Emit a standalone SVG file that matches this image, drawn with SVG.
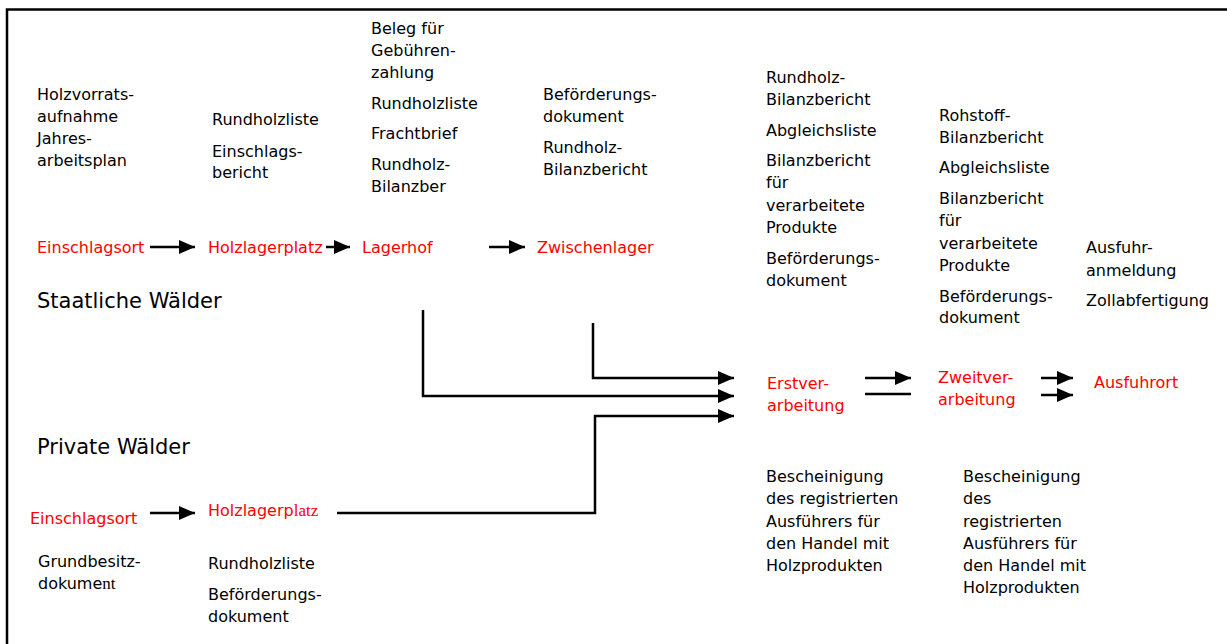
<svg xmlns="http://www.w3.org/2000/svg" width="1227" height="644" viewBox="0 0 1227 644">
<style>
text{font-family:"DejaVu Sans","Verdana",sans-serif;font-size:16px;fill:#000}
.r{fill:#ff0000}
.h{font-size:21px}
.s{font-family:"Liberation Serif","Times New Roman",serif}
.ln{stroke:#000;stroke-width:2.5;fill:none}
</style>
<defs>
<marker id="ah" markerUnits="userSpaceOnUse" markerWidth="17" markerHeight="14" refX="16" refY="7" orient="auto">
<path d="M0,0 L16,7 L0,14 Z" fill="#000"/>
</marker>
</defs>
<rect width="1227" height="644" fill="#fff"/>
<g id="frame">
<path d="M7,644 V9.5 H1227" stroke="#000" stroke-width="2.5" fill="none"/>
</g>
<g id="heading-staat"><text class="h" x="37" y="308">Staatliche Wälder</text></g>
<g id="heading-privat"><text class="h" x="37" y="454">Private Wälder</text></g>

<g id="n-einschlagsort1"><text class="r" x="37" y="253">Einschlagsort</text>
<text x="37" y="100">Holzvorrats-</text><text x="37" y="122">aufnahme</text><text x="37" y="144">Jahres-</text><text x="37" y="166">arbeitsplan</text></g>
<g id="n-holzlagerplatz1"><text class="r" x="208" y="253">Holzlagerplatz</text>
<text x="212" y="125">Rundholzliste</text><text x="212" y="157">Einschlags-</text><text x="212" y="178">bericht</text></g>
<g id="n-lagerhof"><text class="r" x="362" y="253">Lagerhof</text>
<text x="371" y="34">Beleg für</text><text x="371" y="56">Gebühren-</text><text x="371" y="78">zahlung</text><text x="371" y="109">Rundholzliste</text><text x="371" y="139">Frachtbrief</text><text x="371" y="170">Rundholz-</text><text x="371" y="192">Bilanzber</text></g>
<g id="n-zwischenlager"><text class="r" x="537" y="253">Zwischenlager</text>
<text x="543" y="100">Beförderungs-</text><text x="543" y="122">dokument</text><text x="543" y="153">Rundholz-</text><text x="543" y="175">Bilanzbericht</text></g>
<g id="n-erstverarbeitung"><text class="r" x="767" y="389">Erstver-</text><text class="r" x="767" y="411">arbeitung</text>
<text x="766" y="83">Rundholz-</text><text x="766" y="105">Bilanzbericht</text><text x="766" y="136">Abgleichsliste</text><text x="766" y="166">Bilanzbericht</text><text x="766" y="188">für</text><text x="766" y="211">verarbeitete</text><text x="766" y="233">Produkte</text><text x="766" y="264">Beförderungs-</text><text x="766" y="286">dokument</text>
<text x="766" y="482">Bescheinigung</text><text x="766" y="504">des registrierten</text><text x="766" y="527">Ausführers für</text><text x="766" y="549">den Handel mit</text><text x="766" y="571">Holzprodukten</text></g>
<g id="n-zweitverarbeitung"><text class="r" x="938" y="383">Zweitver-</text><text class="r" x="938" y="405">arbeitung</text>
<text x="939" y="121">Rohstoff-</text><text x="939" y="143">Bilanzbericht</text><text x="939" y="173">Abgleichsliste</text><text x="939" y="204">Bilanzbericht</text><text x="939" y="226">für</text><text x="939" y="249">verarbeitete</text><text x="939" y="271">Produkte</text><text x="939" y="302">Beförderungs-</text><text x="939" y="323">dokument</text>
<text x="963" y="482">Bescheinigung</text><text x="963" y="504">des</text><text x="963" y="527">registrierten</text><text x="963" y="549">Ausführers für</text><text x="963" y="571">den Handel mit</text><text x="963" y="593">Holzprodukten</text></g>
<g id="n-ausfuhrort"><text class="r" x="1094" y="388">Ausfuhrort</text>
<text x="1086" y="253">Ausfuhr-</text><text x="1086" y="276">anmeldung</text><text x="1086" y="306">Zollabfertigung</text></g>
<g id="n-einschlagsort2"><text class="r" x="30" y="524">Einschlagsort</text>
<text x="38" y="567">Grundbesitz-</text><text x="38" y="589">dokume<tspan class="s" font-size="17">nt</tspan></text></g>
<g id="n-holzlagerplatz2"><text class="r" x="208" y="516">Holzlagerp<tspan class="s" font-size="17">latz</tspan></text>
<text x="208" y="569">Rundholzliste</text><text x="208" y="600">Beförderungs-</text><text x="208" y="622">dokument</text></g>

<g id="connectors" class="ln">
<path class="ln" d="M150,247 H195" marker-end="url(#ah)"/>
<path class="ln" d="M326,247 H350" marker-end="url(#ah)"/>
<path class="ln" d="M489,247 H525" marker-end="url(#ah)"/>
<path class="ln" d="M423,310 V396 H734" marker-end="url(#ah)"/>
<path class="ln" d="M593,323 V378 H734" marker-end="url(#ah)"/>
<path class="ln" d="M337,513 H595 V416 H734" marker-end="url(#ah)"/>
<path class="ln" d="M150,513 H195" marker-end="url(#ah)"/>
<path class="ln" d="M865,378 H911" marker-end="url(#ah)"/>
<path class="ln" d="M865,394 H911"/>
<path class="ln" d="M1041,378 H1073" marker-end="url(#ah)"/>
<path class="ln" d="M1041,395 H1073" marker-end="url(#ah)"/>
</g>
</svg>
